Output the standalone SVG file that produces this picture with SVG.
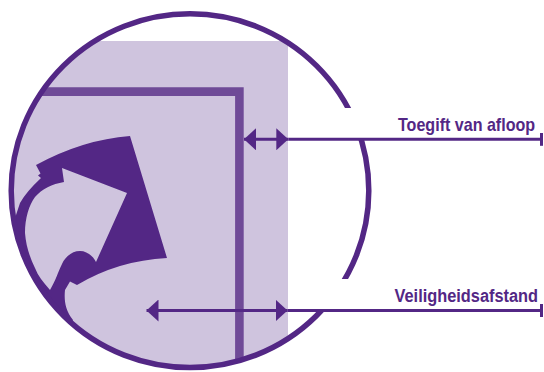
<svg xmlns="http://www.w3.org/2000/svg" width="544" height="372" viewBox="0 0 544 372">
<style>
.dark{fill:#532785}
.dim{fill:none;stroke:#532785;stroke-width:3}
.lbl{font-family:"Liberation Sans",Arial,sans-serif;font-weight:bold;font-size:18px;fill:#532785}
</style>
<defs>
<clipPath id="lens"><ellipse cx="190" cy="190.7" rx="178.8" ry="176.9"/></clipPath>
<marker id="ah" markerUnits="userSpaceOnUse" viewBox="0 0 12 22" refX="12" refY="11" markerWidth="12" markerHeight="22" orient="auto-start-reverse"><path d="M0,0 L12,11 L0,22 Z" fill="#532785"/></marker>
<marker id="tick" markerUnits="userSpaceOnUse" viewBox="0 0 3 13" refX="1.5" refY="6.5" markerWidth="3" markerHeight="13" orient="0"><rect width="3" height="13" fill="#532785"/></marker>
</defs>
<rect width="544" height="372" fill="#ffffff"/>
<g id="lens-content" clip-path="url(#lens)">
<rect id="bleed" x="0" y="41" width="288" height="331" fill="#CFC4DE"/>
<path id="icon" class="dark" fill-rule="evenodd" d="M36,165 Q83,139.5 130,136 L167,258 Q118,260.5 77,285 L70,281.5 L65,290 C64,300 65,310 73,320 L72,322.5 L78,328 L60,350 L-5,300 L-5,222 L15,218 L20,203 Q26,192 41,178 L38,175.5 L40.5,173.5 Z M127,193 L96,262 C93,256 87,251 80,251 C72,251 65,257 62,264 C58,272 56,280 50,290 C43,282 38,276 35,268 C30,258 26,246 25,233 C25,218 29,205 35,197 C42,189 52,184 64,182 L62,168 Z"/>
<path id="trim" d="M0,91.6 H239.4 V372" fill="none" stroke="#6F4A97" stroke-width="8.6" stroke-linejoin="miter"/>
</g>
<g id="lens-rim">
<ellipse cx="190" cy="190.7" rx="178.8" ry="176.9" fill="none" stroke="#532785" stroke-width="5.5"/>
</g>
<g id="label-backs" fill="#ffffff">
<rect x="300" y="108" width="244" height="30"/>
<rect x="300" y="279" width="244" height="30"/>
</g>
<g id="connectors">
<path class="dim" d="M244,139.3 H288.3" marker-start="url(#ah)" marker-end="url(#ah)"/>
<path class="dim" d="M288.3,139.3 H541.5" marker-end="url(#tick)"/>
<path class="dim" d="M146.5,310.5 H287.5" marker-start="url(#ah)" marker-end="url(#ah)"/>
<path class="dim" d="M287.5,310.5 H541.5" marker-end="url(#tick)"/>
</g>
<g id="label-toegift">
<text class="lbl" transform="translate(398,131) scale(0.8935,1)" x="0" y="0">Toegift van afloop</text>
</g>
<g id="label-veiligheid">
<text class="lbl" transform="translate(394.5,301.5) scale(0.909,1)" x="0" y="0">Veiligheidsafstand</text>
</g>
</svg>
